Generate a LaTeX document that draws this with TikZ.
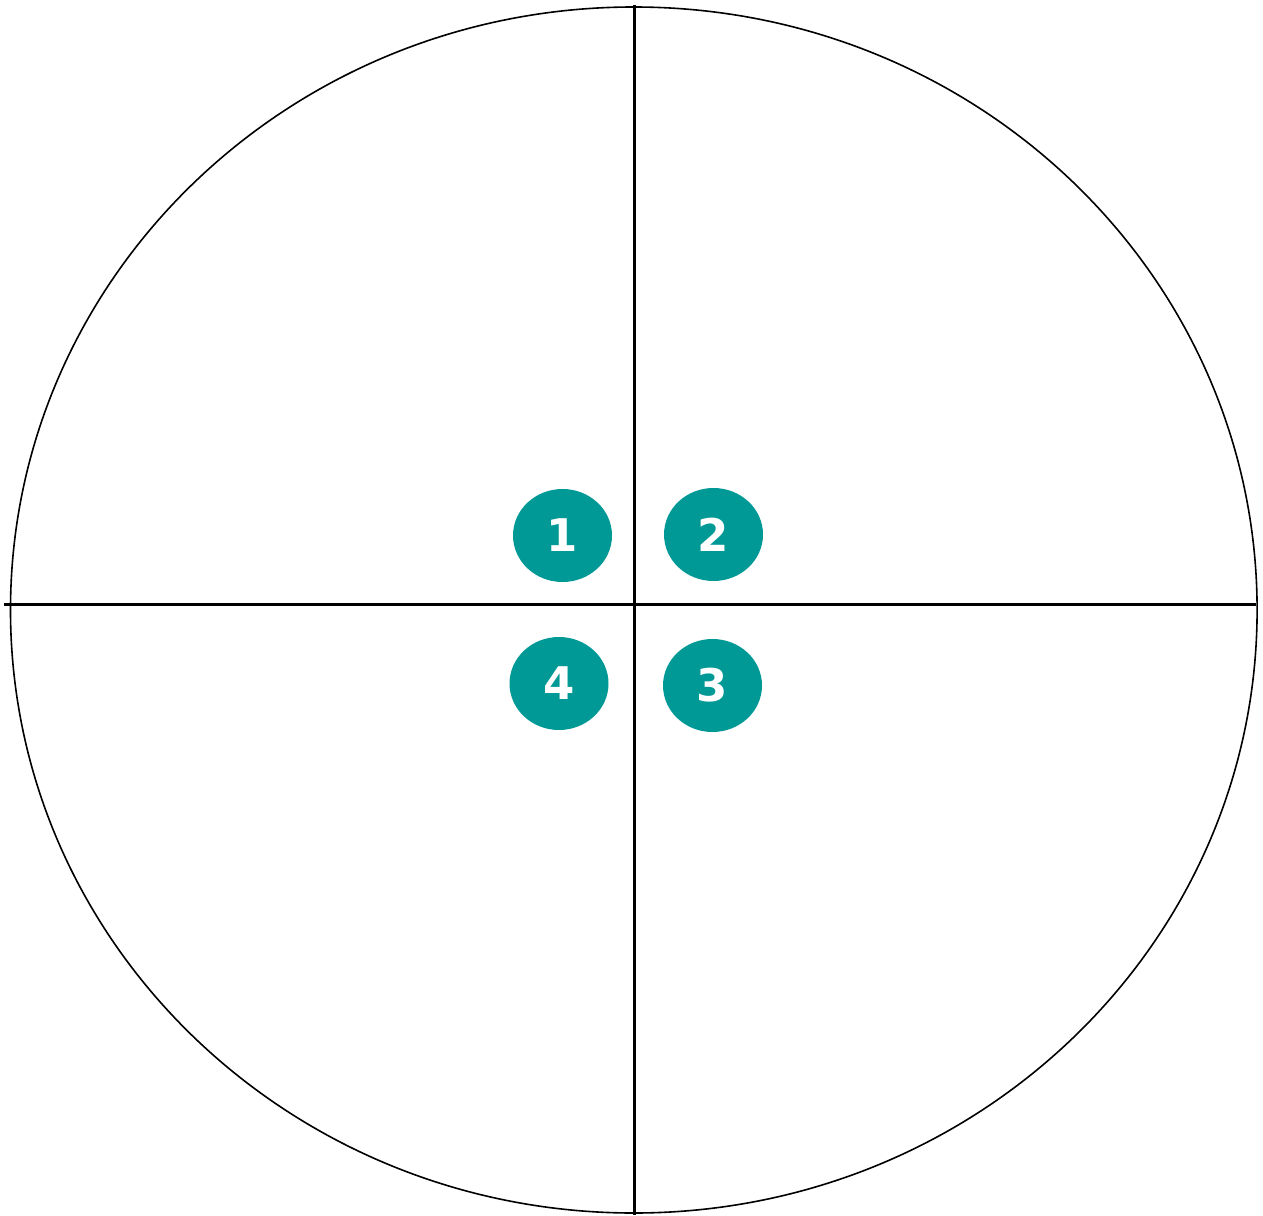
\documentclass[tikz,border=0pt]{standalone}
\usepackage{fontspec}
\setmainfont{Lato}
\newfontfamily\quadnum{DejaVu Sans}
\usepackage{tikz}
\usetikzlibrary{shapes.geometric}
\usepackage{xcolor}
\definecolor{quadteal}{RGB}{0,153,150}

\begin{document}
\begin{tikzpicture}[x=1pt, y=-1pt,
        quadmark/.style={ellipse, fill=quadteal, text=white, inner sep=0pt,
            minimum width=99pt, minimum height=93pt,
            font=\quadnum\bfseries\fontsize{45}{45}\selectfont}]
                \useasboundingbox (0,0) rectangle (1263,1215);
                \coordinate (O) at (634.5,604.5);
                \coordinate (W) at (4,604.5);
                \coordinate (E) at (1256,604.5);
                \coordinate (N) at (634.5,5);
                \coordinate (S) at (634.5,1215);
                \draw[black, line width=1.6pt] (633.8,610) ellipse [x radius=623.3, y radius=603];
                \draw[black, line width=2.2pt] (W) -- (E);
                \draw[black, line width=2.2pt] (N) -- (S);
                \node[quadmark] (Q1) at (562.5,535.5) {1};
                \node[quadmark] (Q2) at (713.5,534.5) {2};
                \node[quadmark] (Q3) at (712.5,685.5) {3};
                \node[quadmark] (Q4) at (559,683.5) {4};
            \end{tikzpicture}
\end{document}
